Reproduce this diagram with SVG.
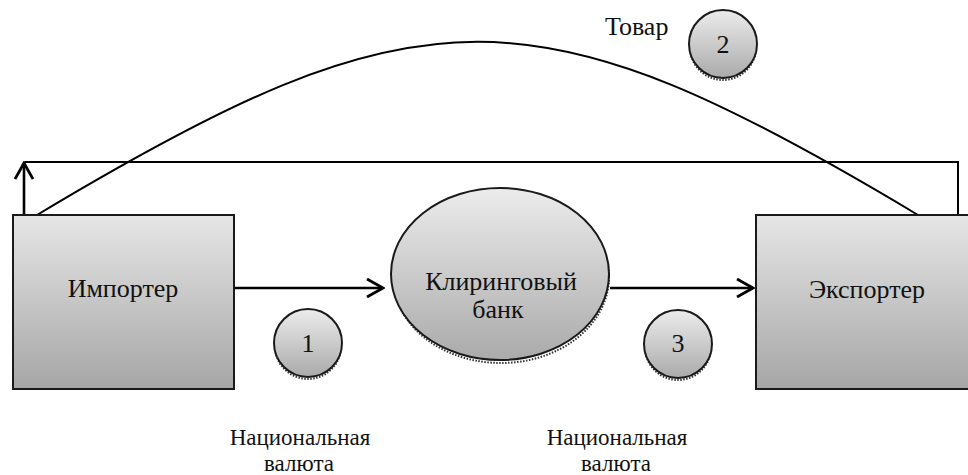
<svg xmlns="http://www.w3.org/2000/svg" width="968" height="475" viewBox="0 0 968 475">
  <style>
    text { font-family: 'Liberation Serif', 'Times New Roman', serif; fill: #111; }
    .big { font-size: 26px; }
    .mid { font-size: 23px; }
    .num { font-size: 26px; }
    .box { fill: url(#boxGrad); stroke: #1a1a1a; stroke-width: 2; }
    .disc { fill: url(#discGrad); stroke: #1a1a1a; stroke-width: 2; }
    .shade { fill: none; stroke: #333; stroke-width: 2; stroke-dasharray: 1.5 1.5; }
    .wire { fill: none; stroke: #000; stroke-width: 2; }
    .flow { fill: none; stroke: #000; stroke-width: 2.6; }
  </style>
  <defs>
    <linearGradient id="boxGrad" x1="0" y1="0" x2="0" y2="1">
      <stop offset="0" stop-color="#e6e6e6"/>
      <stop offset="1" stop-color="#a6a6a6"/>
    </linearGradient>
    <linearGradient id="discGrad" x1="0" y1="0" x2="0" y2="1">
      <stop offset="0" stop-color="#ececec"/>
      <stop offset="1" stop-color="#aaaaaa"/>
    </linearGradient>
    <marker id="chev" viewBox="0 0 20 20" refX="18" refY="10" markerWidth="20" markerHeight="20" markerUnits="userSpaceOnUse" orient="auto">
      <path d="M2,1 L18,10 L2,19" fill="none" stroke="#000" stroke-width="2.8"/>
    </marker>
  </defs>

  <!-- connectors -->
  <g id="connectors">
    <!-- goods flow: arc from importer over to exporter -->
    <path class="wire" d="M37,215 C422,-16 533,-16 918,215"/>
    <!-- return line: exporter top, across, down into importer -->
    <path class="wire" d="M958,215 L958,162 L25,162"/>
    <line class="flow" x1="24" y1="215" x2="24" y2="163" marker-end="url(#chev)"/>
    <!-- currency flows -->
    <line class="flow" x1="234" y1="288" x2="383" y2="288" marker-end="url(#chev)"/>
    <line class="flow" x1="610" y1="288" x2="753" y2="288" marker-end="url(#chev)"/>
  </g>

  <g id="importer">
    <rect class="box" x="13" y="215" width="221" height="174"/>
    <text class="big" x="123" y="297" text-anchor="middle">Импортер</text>
  </g>

  <g id="exporter">
    <rect class="box" x="756" y="215" width="222" height="174"/>
    <text class="big" x="867" y="298" text-anchor="middle">Экспортер</text>
  </g>

  <g id="bank">
    <ellipse class="shade" cx="501" cy="277" rx="108" ry="86"/>
    <ellipse class="disc" cx="500" cy="274" rx="109" ry="86"/>
    <text class="big" x="501" y="290" text-anchor="middle">Клиринговый</text>
    <text class="big" x="498" y="318" text-anchor="middle">банк</text>
  </g>

  <g id="step1">
    <circle class="shade" cx="308" cy="346" r="33"/>
    <circle class="disc" cx="308" cy="343" r="34"/>
    <text class="num" x="308" y="352" text-anchor="middle">1</text>
  </g>

  <g id="step2">
    <circle class="shade" cx="723" cy="47" r="33"/>
    <circle class="disc" cx="723" cy="44" r="34"/>
    <text class="num" x="723" y="53" text-anchor="middle">2</text>
  </g>

  <g id="step3">
    <circle class="shade" cx="678" cy="347" r="33"/>
    <circle class="disc" cx="678" cy="344" r="34"/>
    <text class="num" x="678" y="352" text-anchor="middle">3</text>
  </g>

  <g id="goods-label">
    <text class="num" x="605" y="35">Товар</text>
  </g>

  <g id="currency-left">
    <text class="mid" x="300" y="445" text-anchor="middle">Национальная</text>
    <text class="mid" x="299" y="471" text-anchor="middle">валюта</text>
  </g>

  <g id="currency-right">
    <text class="mid" x="617" y="445" text-anchor="middle">Национальная</text>
    <text class="mid" x="616" y="471" text-anchor="middle">валюта</text>
  </g>
</svg>
